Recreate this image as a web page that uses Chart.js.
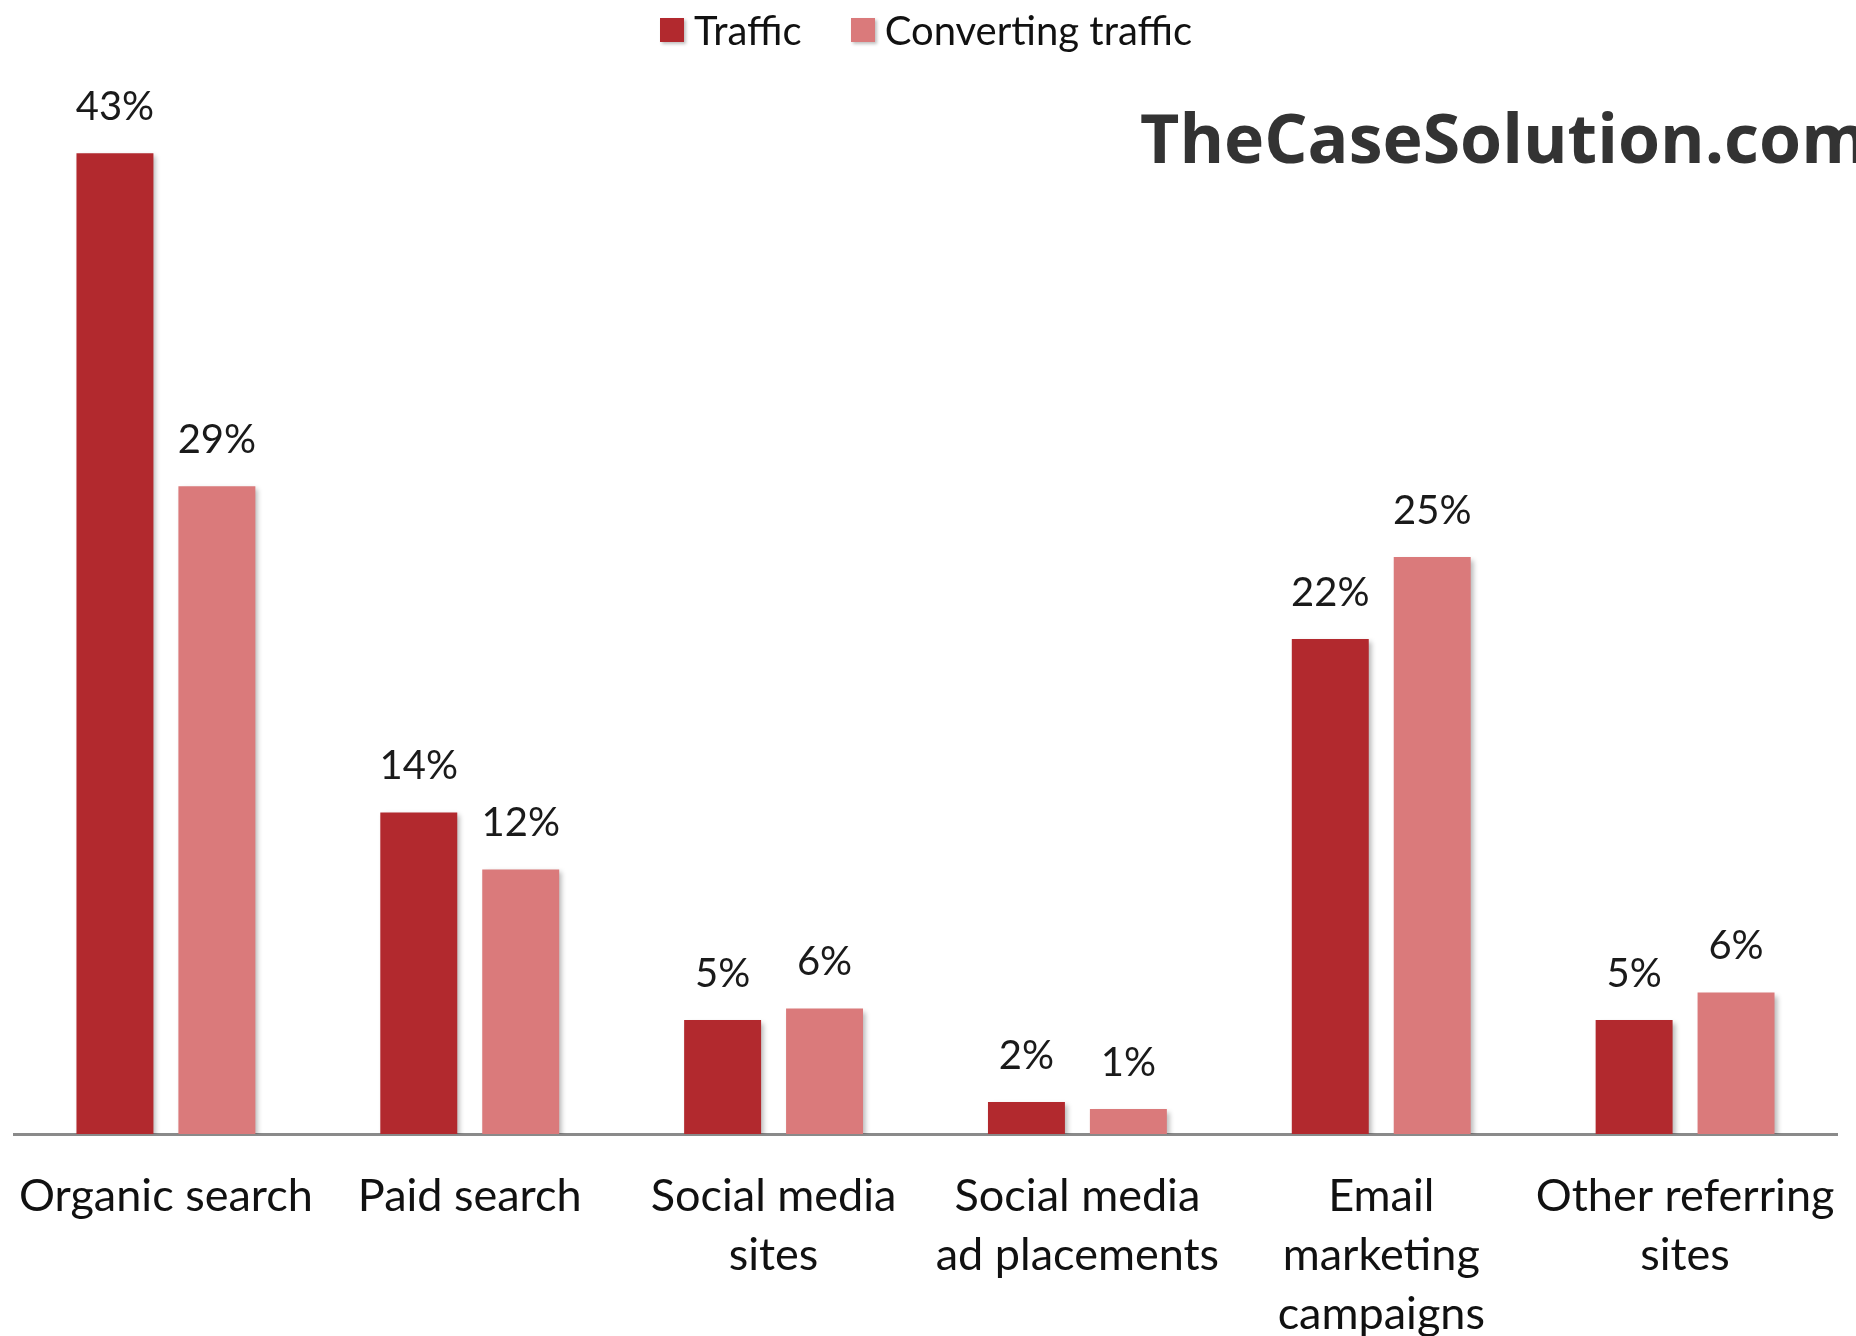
<!DOCTYPE html>
<html>
<head>
<meta charset="utf-8">
<script src="https://cdn.jsdelivr.net/npm/chart.js@4.4.0/dist/chart.umd.min.js"></script>
<style>
html, body { margin: 0; padding: 0; background: #fff; overflow: hidden; }
#wrap { position: relative; width: 1856px; height: 1336px; }
#legend { position: absolute; left: 660px; top: 10px; display: flex; font-family: Lato, sans-serif; font-size: 40px; line-height: 40px; color: #111; }
#legend .item { display: flex; align-items: center; margin-right: 49px; }
#legend .box { width: 24px; height: 24px; margin-right: 10px; box-shadow: 2px 2px 3px rgba(0,0,0,0.25); }
</style>
</head>
<body>
<div id="wrap">
  <canvas id="chart" width="1856" height="1336"></canvas>
  <div id="legend"></div>
</div>
<script>
var categories = [
    'Organic search',
    'Paid search',
    ['Social media', 'sites'],
    ['Social media', 'ad placements'],
    ['Email', 'marketing', 'campaigns'],
    ['Other referring', 'sites']
];
var seriesNames = ['Traffic', 'Converting traffic'];
var trafficValues = [43, 14.1, 5.0, 1.4, 21.7, 5.0];
var convertingValues = [28.4, 11.6, 5.5, 1.1, 25.3, 6.2];
var trafficText = ['43%', '14%', '5%', '2%', '22%', '5%'];
var convertingText = ['29%', '12%', '6%', '1%', '25%', '6%'];
var colors = ['#b2292e', '#da7a7b'];

// bar shadows like the excel original
var barShadow = {
    id: 'barShadow',
    beforeDatasetsDraw: function(chart) {
        var ctx = chart.ctx;
        ctx.save();
        ctx.shadowColor = 'rgba(0,0,0,0.28)';
        ctx.shadowBlur = 5;
        ctx.shadowOffsetX = 3;
        ctx.shadowOffsetY = 3;
    },
    afterDatasetsDraw: function(chart) {
        chart.ctx.restore();
    }
};

var valueLabels = {
    id: 'valueLabels',
    afterDatasetsDraw: function(chart) {
        var ctx = chart.ctx;
        var texts = [trafficText, convertingText];
        ctx.save();
        ctx.font = '40px Lato';
        ctx.fillStyle = '#1a1a1a';
        ctx.textAlign = 'center';
        ctx.textBaseline = 'middle';
        chart.data.datasets.forEach(function(ds, i) {
            var meta = chart.getDatasetMeta(i);
            meta.data.forEach(function(bar, j) {
                ctx.fillText(texts[i][j], bar.x, bar.y - 46);
            });
        });
        ctx.restore();
    }
};

var watermark = {
    id: 'watermark',
    afterDraw: function(chart) {
        var ctx = chart.ctx;
        ctx.save();
        ctx.font = 'bold 68px "Open Sans"';
        ctx.fillStyle = '#333333';
        ctx.textAlign = 'left';
        ctx.textBaseline = 'alphabetic';
        ctx.fillText('TheCaseSolution.com', 1140, 163);
        ctx.restore();
    }
};

var htmlLegend = {
    id: 'htmlLegend',
    afterUpdate: function(chart) {
        var box = document.getElementById('legend');
        box.innerHTML = '';
        chart.data.datasets.forEach(function(ds) {
            var item = document.createElement('div');
            item.className = 'item';
            var sw = document.createElement('span');
            sw.className = 'box';
            sw.style.background = ds.backgroundColor;
            var txt = document.createElement('span');
            txt.textContent = ds.label;
            item.appendChild(sw);
            item.appendChild(txt);
            box.appendChild(item);
        });
    }
};

function drawChart() {
    var ctx = document.getElementById('chart').getContext('2d');
    var myBarChart = new Chart(ctx, {
        type: 'bar',
        data: {
            labels: categories,
            datasets: [{
                label: seriesNames[0],
                data: trafficValues,
                backgroundColor: colors[0],
                categoryPercentage: 0.671,
                barPercentage: 0.755
            }, {
                label: seriesNames[1],
                data: convertingValues,
                backgroundColor: colors[1],
                categoryPercentage: 0.671,
                barPercentage: 0.755
            }]
        },
        options: {
            responsive: false,
            animation: false,
            layout: {
                padding: { left: 14, right: 19, top: 62, bottom: 0 }
            },
            plugins: {
                legend: { display: false },
                tooltip: { enabled: false }
            },
            scales: {
                x: {
                    grid: {
                        display: true,
                        drawOnChartArea: false,
                        drawTicks: true,
                        tickLength: 30,
                        tickColor: 'rgba(0,0,0,0)'
                    },
                    border: { display: true, color: '#8a8a8a', width: 3 },
                    ticks: {
                        color: '#111',
                        font: { family: 'Lato', size: 45, lineHeight: 1.31 },
                        padding: 3,
                        maxRotation: 0,
                        autoSkip: false
                    },
                    afterFit: function(scale) {
                        scale.height = 202;
                    }
                },
                y: {
                    display: false,
                    min: 0,
                    max: 47
                }
            }
        },
        plugins: [barShadow, valueLabels, watermark, htmlLegend]
    });
}

Promise.all([
    document.fonts.load('45px Lato'),
    document.fonts.load('bold 68px "Open Sans"')
]).then(drawChart, drawChart);
</script>
</body>
</html>
